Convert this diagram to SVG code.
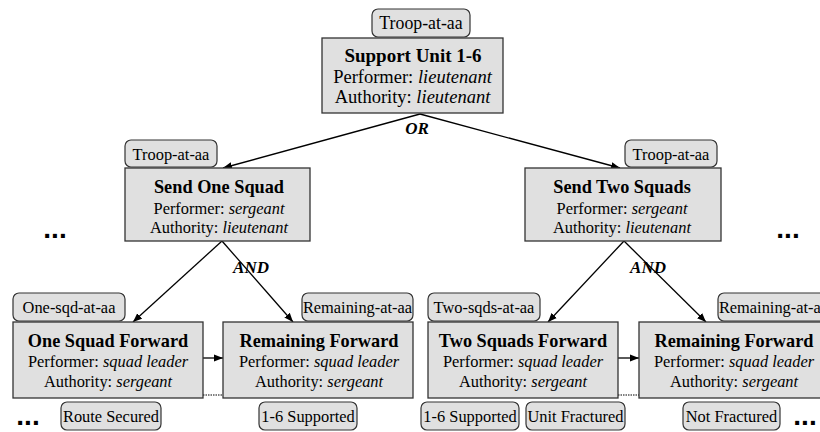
<svg xmlns="http://www.w3.org/2000/svg" width="820" height="432" viewBox="0 0 820 432">
<defs>
<marker id="ah" viewBox="0 0 10 10" refX="10" refY="5" markerWidth="9" markerHeight="9" markerUnits="userSpaceOnUse" orient="auto">
<path d="M0,1 L10,5 L0,9 z" fill="#000"/>
</marker>
<style>
.box{fill:#e0e0e0;stroke:#333;stroke-width:1.3}
.tag{fill:#e0e0e0;stroke:#333;stroke-width:1.2}
.t{font-family:'Liberation Serif','DejaVu Serif',serif;fill:#000;text-anchor:middle}
.ttl{font-size:18.3px;font-weight:bold}
.ln{font-size:16.4px}
.tg{font-size:16.4px}
.top .ttl{font-size:19px}
.top .ln{font-size:18.5px}
.top .tg{font-size:17.8px}
.op{font-size:17px;font-weight:bold;font-style:italic}
.dots{font-size:28px;font-weight:bold;font-family:'Liberation Sans',sans-serif;text-anchor:middle}
.c{stroke:#000;stroke-width:1.3;fill:none}
</style>
</defs>
<rect width="820" height="432" fill="#fff"/>
<g id="connectors">
<line class="c" x1="420" y1="114" x2="223" y2="168" marker-end="url(#ah)"/>
<line class="c" x1="420" y1="114" x2="620" y2="168" marker-end="url(#ah)"/>
<line class="c" x1="222" y1="241" x2="133" y2="322" marker-end="url(#ah)"/>
<line class="c" x1="222" y1="241" x2="293" y2="322" marker-end="url(#ah)"/>
<line class="c" x1="624" y1="241" x2="548" y2="322" marker-end="url(#ah)"/>
<line class="c" x1="624" y1="241" x2="706" y2="322" marker-end="url(#ah)"/>
<line class="c" x1="203" y1="358" x2="223" y2="358" marker-end="url(#ah)"/>
<line class="c" x1="618" y1="358" x2="639" y2="358" marker-end="url(#ah)"/>
<line x1="203" y1="395" x2="223" y2="395" stroke="#000" stroke-width="1" stroke-dasharray="1.5,1"/>
<line x1="618" y1="395" x2="639" y2="395" stroke="#000" stroke-width="1" stroke-dasharray="1.5,1"/>
<text class="t op" x="417" y="134">OR</text>
<text class="t op" x="251" y="273">AND</text>
<text class="t op" x="648" y="273">AND</text>
</g>
<g id="support" class="top">
<rect class="tag" x="372" y="9" width="98" height="28" rx="6"/>
<text class="t tg" x="421" y="29">Troop-at-aa</text>
<rect class="box" x="322" y="38" width="181" height="75"/>
<text class="t ttl" x="413" y="62">Support Unit 1-6</text>
<text class="t ln" x="412.5" y="83">Performer: <tspan font-style="italic">lieutenant</tspan></text>
<text class="t ln" x="412.5" y="103">Authority: <tspan font-style="italic">lieutenant</tspan></text>
</g>
<g id="send-one">
<rect class="tag" x="125" y="140" width="92" height="27" rx="6"/>
<text class="t tg" x="171" y="160">Troop-at-aa</text>
<rect class="box" x="125" y="168" width="185" height="73"/>
<text class="t ttl" x="219" y="193">Send One Squad</text>
<text class="t ln" x="219" y="214">Performer: <tspan font-style="italic">sergeant</tspan></text>
<text class="t ln" x="219" y="233">Authority: <tspan font-style="italic">lieutenant</tspan></text>
</g>
<g id="send-two">
<rect class="tag" x="625" y="140" width="92" height="27" rx="6"/>
<text class="t tg" x="671" y="160">Troop-at-aa</text>
<rect class="box" x="525" y="168" width="196" height="73"/>
<text class="t ttl" x="622" y="193">Send Two Squads</text>
<text class="t ln" x="622" y="214">Performer: <tspan font-style="italic">sergeant</tspan></text>
<text class="t ln" x="622" y="233">Authority: <tspan font-style="italic">lieutenant</tspan></text>
</g>
<g id="one-squad-forward">
<rect class="tag" x="13" y="293" width="112" height="28" rx="6"/>
<text class="t tg" x="69" y="313">One-sqd-at-aa</text>
<rect class="box" x="13" y="322" width="190" height="76"/>
<text class="t ttl" x="108" y="347">One Squad Forward</text>
<text class="t ln" x="108" y="367">Performer: <tspan font-style="italic">squad leader</tspan></text>
<text class="t ln" x="108" y="387">Authority: <tspan font-style="italic">sergeant</tspan></text>
<rect class="tag" x="61" y="402" width="100" height="28" rx="6"/>
<text class="t tg" x="111" y="422">Route Secured</text>
</g>
<g id="remaining-forward-1">
<rect class="tag" x="302" y="293" width="111" height="28" rx="6"/>
<text class="t tg" x="357.5" y="313">Remaining-at-aa</text>
<rect class="box" x="223" y="322" width="190" height="76"/>
<text class="t ttl" x="319" y="347">Remaining Forward</text>
<text class="t ln" x="319" y="367">Performer: <tspan font-style="italic">squad leader</tspan></text>
<text class="t ln" x="319" y="387">Authority: <tspan font-style="italic">sergeant</tspan></text>
<rect class="tag" x="259" y="402" width="98" height="28" rx="6"/>
<text class="t tg" x="308" y="422">1-6 Supported</text>
</g>
<g id="two-squads-forward">
<rect class="tag" x="428" y="293" width="112" height="28" rx="6"/>
<text class="t tg" x="484" y="313">Two-sqds-at-aa</text>
<rect class="box" x="428" y="322" width="190" height="76"/>
<text class="t ttl" x="523" y="347">Two Squads Forward</text>
<text class="t ln" x="523" y="367">Performer: <tspan font-style="italic">squad leader</tspan></text>
<text class="t ln" x="523" y="387">Authority: <tspan font-style="italic">sergeant</tspan></text>
<rect class="tag" x="421" y="402" width="98" height="28" rx="6"/>
<text class="t tg" x="470" y="422">1-6 Supported</text>
<rect class="tag" x="526" y="402" width="99" height="28" rx="6"/>
<text class="t tg" x="575.5" y="422">Unit Fractured</text>
</g>
<g id="remaining-forward-2">
<rect class="tag" x="718" y="293" width="111" height="28" rx="6"/>
<text class="t tg" x="773.5" y="313">Remaining-at-aa</text>
<rect class="box" x="639" y="322" width="190" height="76"/>
<text class="t ttl" x="734" y="347">Remaining Forward</text>
<text class="t ln" x="734" y="367">Performer: <tspan font-style="italic">squad leader</tspan></text>
<text class="t ln" x="734" y="387">Authority: <tspan font-style="italic">sergeant</tspan></text>
<rect class="tag" x="683" y="402" width="97" height="28" rx="6"/>
<text class="t tg" x="731.5" y="422">Not Fractured</text>
</g>
<g id="ellipses">
<text class="dots" x="55" y="238">...</text>
<text class="dots" x="788" y="238">...</text>
<text class="dots" x="28" y="425">...</text>
<text class="dots" x="805" y="425">...</text>
</g>
</svg>
